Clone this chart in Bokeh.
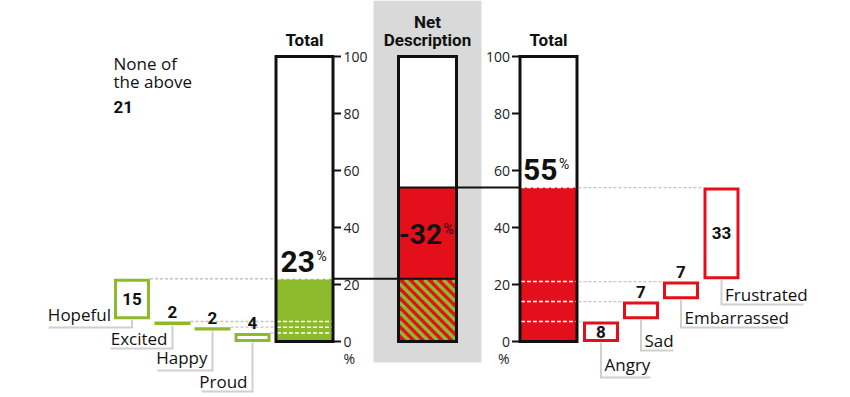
from bokeh.plotting import figure
from bokeh.models import Range1d, BoxAnnotation
from bokeh.core.properties import value
from bokeh.embed import file_html
from bokeh.resources import INLINE

# ---------------- data ----------------
pos_labels = ["Hopeful", "Excited", "Happy", "Proud"]
pos_values = [15, 2, 2, 4]
neg_labels = ["Angry", "Sad", "Embarrassed", "Frustrated"]
neg_values = [8, 7, 7, 33]
none_lines = ["None of", "the above"]
none_value = 21
axis_ticks = [0, 20, 40, 60, 80, 100]
axis_unit = "%"
col_titles = ["Total", "Net\nDescription", "Total"]

pos_total = sum(pos_values)
neg_total = sum(neg_values)
net_value = pos_total - neg_total

pos_top, acc = [], pos_total
for v in pos_values:
    pos_top.append(acc)
    acc -= v
pos_bot = [t - v for t, v in zip(pos_top, pos_values)]
neg_bot, acc = [], 0
for v in neg_values:
    neg_bot.append(acc)
    acc += v
neg_top = [b + v for b, v in zip(neg_bot, neg_values)]

# ---------------- style / layout ----------------
GREEN = "#8DBA2B"
RED = "#E3101B"
BG = "#D9D9D9"
LEAD = "#D0D0D0"
DOT = "#C4C4C4"
INK = "#111111"
TXT = value("Open Sans")
NUM = value("Roboto")

W, H = 850, 397
PPU = 2.85                      # pixels per percentage point


def V(py):                      # page row -> value units (layout helper)
    return (341 - py) / PPU


def dv(px):                     # pixel distance -> value distance
    return px / PPU


LV = dv(2.8)                    # visual inset of stacked levels
pos_x = [131.5, 172, 212, 252]
neg_x = [600.5, 640.5, 680.5, 721]
BOX_W = 33
LB = (275.5, 332.5)
MB = (398, 456)
RB = (519.5, 576.5)
bar_cx = [(LB[0] + LB[1]) / 2, (MB[0] + MB[1]) / 2, (RB[0] + RB[1]) / 2]
STRIPE_PERIOD = 9.5
STRIPE_W = 3.4

p = figure(width=W, height=H, x_range=Range1d(0, W), y_range=Range1d(V(H), V(0)),
           output_backend="svg", toolbar_location=None, x_axis_type=None, y_axis_type=None,
           min_border=0, outline_line_color=None)

# grey band behind the net column
p.add_layout(BoxAnnotation(left=373, right=481, bottom=V(362), fill_color=BG, fill_alpha=1,
                           line_color=None, level="underlay"))

# ---------------- bars ----------------
for b in (LB, MB, RB):
    p.quad(left=[b[0]], right=[b[1]], bottom=[0], top=[100], fill_color="white", line_color=None)

# left total (positive)
p.quad(left=[LB[0]], right=[LB[1]], bottom=[0], top=[pos_total - LV], fill_color=GREEN, line_color=None)
lv_left = pos_bot[:-1] + [pos_total]
p.segment(x0=[LB[0] + 1] * len(lv_left), x1=[LB[1] - 1] * len(lv_left),
          y0=[l - LV for l in lv_left], y1=[l - LV for l in lv_left],
          line_color="white", line_width=1.5, line_dash="4 2")

# right total (negative)
p.quad(left=[RB[0]], right=[RB[1]], bottom=[0], top=[neg_total - LV], fill_color=RED, line_color=None)
lv_right = neg_top
p.segment(x0=[RB[0] + 1] * len(lv_right), x1=[RB[1] - 1] * len(lv_right),
          y0=[l - LV for l in lv_right], y1=[l - LV for l in lv_right],
          line_color="white", line_width=1.5, line_dash="4 2")

# net column: red part (net negative) and striped overlap part
p.quad(left=[MB[0]], right=[MB[1]], bottom=[0], top=[neg_total - LV],
       fill_color=RED, line_color=None)
# diagonal green stripes over the overlap (0 .. positive total), 45 degrees on screen
sx0, sx1, sy0, sy1 = [], [], [], []
L, R = MB[0] + 1, MB[1] - 1
y_lo, y_hi = 0 + dv(1), pos_total - LV - dv(1)
span_px = (y_hi - y_lo) * PPU
c = -span_px
while c < (R - L):
    d0 = max(0.0, -c)
    d1 = min(span_px, (R - L) - c)
    if d1 > d0:
        sx0.append(L + c + d0)
        sx1.append(L + c + d1)
        sy0.append(y_hi - dv(d0))
        sy1.append(y_hi - dv(d1))
    c += STRIPE_PERIOD
p.segment(x0=sx0, x1=sx1, y0=sy0, y1=sy1, line_color=GREEN, line_width=STRIPE_W, line_cap="butt")

# connectors
p.segment(x0=[LB[1], MB[0]], x1=[MB[1], RB[0]],
          y0=[pos_total - LV, neg_total - LV], y1=[pos_total - LV, neg_total - LV],
          line_color=INK, line_width=2)

# bar borders
for b in (LB, MB, RB):
    p.quad(left=[b[0]], right=[b[1]], bottom=[0], top=[100], fill_alpha=0,
           line_color=INK, line_width=3, line_join="miter")

# axes (ticks + labels)
n = len(axis_ticks)
p.segment(x0=[LB[1]] * n, x1=[LB[1] + 8] * n, y0=axis_ticks, y1=axis_ticks, line_color=INK, line_width=2)
p.segment(x0=[RB[0] - 8] * n, x1=[RB[0]] * n, y0=axis_ticks, y1=axis_ticks, line_color=INK, line_width=2)
tick_txt = [str(t) for t in axis_ticks]
p.text(x=[LB[1] + 10.5] * n, y=axis_ticks, text=tick_txt, text_font=TXT, text_font_size="14px",
       text_align="left", text_baseline="middle", text_color="#222222")
p.text(x=[RB[0] - 10] * n, y=axis_ticks, text=tick_txt, text_font=TXT, text_font_size="14px",
       text_align="right", text_baseline="middle", text_color="#222222")
p.text(x=[343, 509], y=[V(358)] * 2, text=[axis_unit] * 2, text_font=TXT, text_font_size="14px",
       text_align=["left", "right"], text_baseline="middle", text_color="#222222")

# column titles
tx, ty, tt = [], [], []
for cx, title in zip(bar_cx, col_titles):
    lines = title.split("\n")
    for k, line in enumerate(reversed(lines)):
        tx.append(cx)
        ty.append(V(39) + dv(18 * k))
        tt.append(line)
p.text(x=tx, y=ty, text=tt, text_font=NUM, text_font_size="17px", text_font_style="bold",
       text_align="center", text_baseline="middle", text_color=INK)

# big percentage labels
big_y = [pos_total - LV + dv(17.5),
         ((pos_total - LV) + (neg_total - LV)) / 2 - dv(1),
         neg_total - LV + dv(18)]
big_x = [bar_cx[0] + 10.5, bar_cx[1] + 14.5, bar_cx[2] + 9]
big_t = [str(pos_total), str(net_value), str(neg_total)]
big_fs = ["30px", "28px", "30px"]
p.text(x=big_x, y=big_y, text=big_t, text_font=NUM, text_font_size=big_fs, text_font_style="bold",
       text_align="right", text_baseline="middle", text_color=INK)
p.text(x=[x + 1.5 for x in big_x], y=[y + dv(5.5) for y in big_y], text=["%"] * 3, text_font=NUM,
       text_font_size="14px", text_align="left", text_baseline="middle", text_color=INK)

# ---------------- waterfall boxes ----------------
def boxes(xs, bots, tops, color):
    p.quad(left=[x - BOX_W / 2 for x in xs], right=[x + BOX_W / 2 for x in xs],
           bottom=[b + dv(1) for b in bots], top=[t - dv(4.3) for t in tops],
           fill_color="white", line_color=color, line_width=3, line_join="miter")


boxes(pos_x, pos_bot, pos_top, GREEN)
boxes(neg_x, neg_bot, neg_top, RED)

# dotted guides
p.segment(x0=[x + BOX_W / 2 + 1.5 for x in pos_x], x1=[LB[0] - 1.5] * 4,
          y0=[t - LV for t in pos_top], y1=[t - LV for t in pos_top],
          line_color=DOT, line_width=1.3, line_dash="3 2")
p.segment(x0=[RB[1] + 1.5] * 4, x1=[x - BOX_W / 2 - 1.5 for x in neg_x],
          y0=[t - LV for t in neg_top], y1=[t - LV for t in neg_top],
          line_color=DOT, line_width=1.3, line_dash="3 2")

# value labels
vx, vy, vt = [], [], []
for xs, bots, tops, vals in ((pos_x, pos_bot, pos_top, pos_values), (neg_x, neg_bot, neg_top, neg_values)):
    for x, b, t, v in zip(xs, bots, tops, vals):
        vx.append(x)
        vt.append(str(v))
        if v * PPU >= 20:
            vy.append(((t - LV) + (b - dv(0.5))) / 2)
        else:
            vy.append(t - LV + dv(9.5))
p.text(x=vx, y=vy, text=vt, text_font=NUM, text_font_size="17px", text_font_style="bold",
       text_align="center", text_baseline="middle", text_color=INK)


def has_desc(s):
    return any(c in "gjpqy" for c in s)


# category leaders + labels, left side
left_line = [V(327), V(348), V(370), V(391)]
left_lead_x0 = [48, 110, 157, 201]
left_text_xr = [110.5, 167, 207, 247]
p.segment(x0=pos_x, x1=pos_x, y0=[b - dv(1) for b in pos_bot], y1=left_line, line_color=LEAD, line_width=2)
p.segment(x0=left_lead_x0, x1=[x + 1 for x in pos_x], y0=left_line, y1=left_line, line_color=LEAD, line_width=2)
p.text(x=left_text_xr, y=[l + dv(13.5 if has_desc(s) else 10.3) for l, s in zip(left_line, pos_labels)],
       text=pos_labels, text_font=TXT, text_font_size="17px", text_align="right",
       text_baseline="middle", text_color=INK)

# right side
right_line = [V(377), V(350), V(327), V(304)]
right_lead_x1 = [650, 673, 783, 803]
p.segment(x0=neg_x, x1=neg_x, y0=[b - dv(1) for b in neg_bot], y1=right_line, line_color=LEAD, line_width=2)
p.segment(x0=[x - 1 for x in neg_x], x1=right_lead_x1, y0=right_line, y1=right_line, line_color=LEAD, line_width=2)
p.text(x=[x + 3.5 for x in neg_x], y=[l + dv(13.5 if has_desc(s) else 10.3) for l, s in zip(right_line, neg_labels)],
       text=neg_labels, text_font=TXT, text_font_size="17px", text_align="left",
       text_baseline="middle", text_color=INK)

# none of the above
p.text(x=[113, 113], y=[V(62.5), V(80.8)], text=none_lines, text_font=TXT, text_font_size="17px",
       text_align="left", text_baseline="middle", text_color=INK)
p.text(x=[113], y=[V(106.7)], text=[str(none_value)], text_font=NUM, text_font_size="17px",
       text_font_style="bold", text_align="left", text_baseline="middle", text_color=INK)

open("out.html", "w").write(file_html(p, INLINE))
